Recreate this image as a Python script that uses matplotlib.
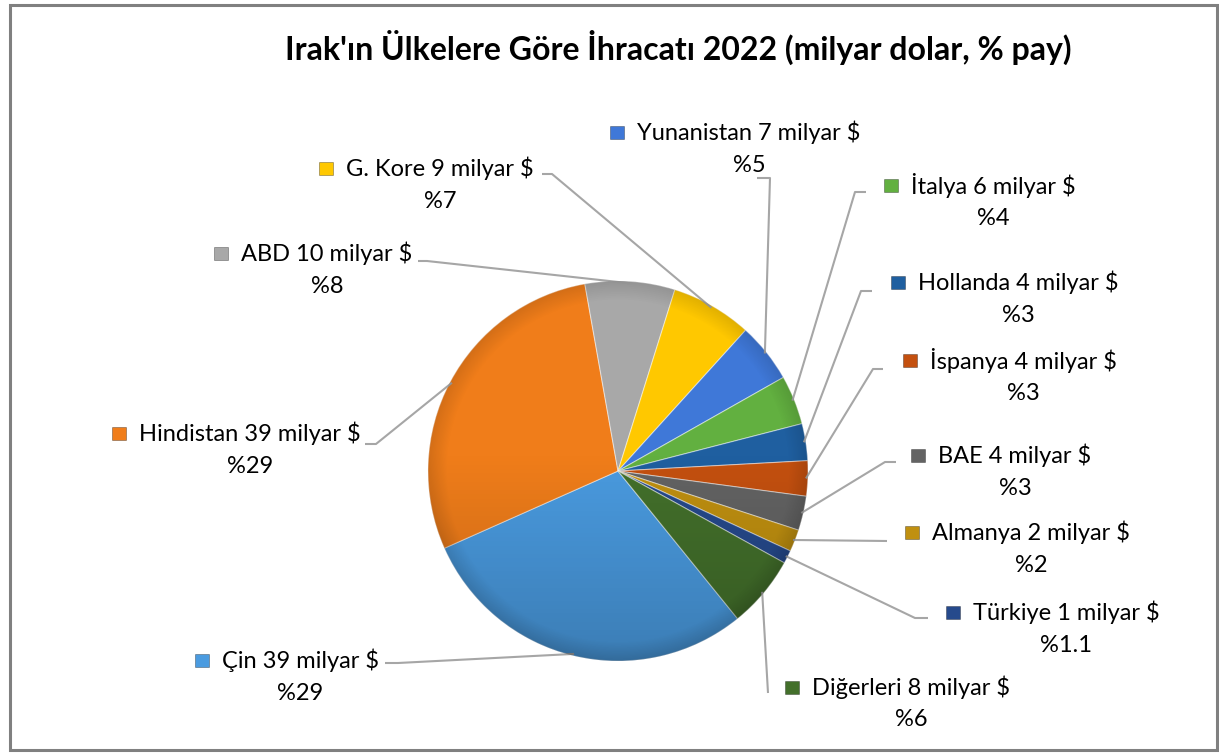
import numpy as np
import matplotlib
matplotlib.use("Agg")
import matplotlib.pyplot as plt
from matplotlib.patches import Rectangle, Circle
import matplotlib.colors as mcolors

plt.rcParams['font.family'] = ['Lato', 'DejaVu Sans']

# veriler (saat yönünde, Çin'den başlayarak)
ulkeler = ['Çin', 'Hindistan', 'ABD', 'G. Kore', 'Yunanistan', 'İtalya',
           'Hollanda', 'İspanya', 'BAE', 'Almanya', 'Türkiye', 'Diğerleri']
degerler = [39.0, 38.6, 10.2, 9.2, 6.8, 5.6, 4.2, 4.0, 3.9, 2.5, 1.5, 8.2]
milyar_etiket = ['39', '39', '10', '9', '7', '6', '4', '4', '4', '2', '1', '8']
yuzde_etiket = ['%29', '%29', '%8', '%7', '%5', '%4', '%3', '%3', '%3', '%2', '%1.1', '%6']
renkler = ['#4A9BE0', '#F07D1A', '#A8A8A8', '#FFC800', '#3F78D8', '#62B040',
           '#1F5FA0', '#C4500F', '#636363', '#C09010', '#264A8C', '#43702B']

# etiket yerleşimi (piksel, sol üstten): metin merkezi x, ilk satır y
etiket_x = [300, 250, 327, 440, 749, 993, 1018, 1023, 1015, 1031, 1066, 911]
etiket_y = [660, 433, 253, 168, 132, 185, 282, 360, 455, 532, 612, 687]
# çizgi başlangıcı ve dirsek noktası
cizgi_bas = [(385, 663), (365, 444), (418, 261), (542, 174), (757, 178), (866, 192),
             (872, 291), (883, 369), (896, 462), (887, 541), (928, 618), (768, 693)]
cizgi_dirsek = [(398, 663), (376, 444), (427, 261), (552, 174), (770, 178), (855, 192),
                (861, 291), (873, 369), (885, 462), (887, 541), (915, 618), (768, 693)]

W, H = 1219, 753
fig = plt.figure(figsize=(W / 100, H / 100), dpi=100)
ax = fig.add_axes([0, 0, 1, 1])

merkez = (618, 471)
r = 190
wedges, _ = ax.pie(degerler, colors=renkler, startangle=51, counterclock=True,
                   center=merkez, radius=r,
                   wedgeprops=dict(edgecolor=(1, 1, 1, 0.45), linewidth=0.8))

ax.set_xlim(0, W)
ax.set_ylim(H, 0)
ax.set_aspect('equal')
ax.axis('off')

# hafif 3B gölgelendirme
n = 400
yy = np.linspace(0, 1, n)[:, None] * np.ones((1, n))
xx = np.ones((n, 1)) * np.linspace(-1, 1, n)[None, :]
rr = np.sqrt(xx ** 2 + ((yy - 0.5) * 2) ** 2)
img = np.zeros((n, n, 4))
alpha = np.clip((yy - 0.45) * 0.35, 0, None)
img[..., 3] = alpha + np.clip(rr - 0.9, 0, None) * 1.2
im = ax.imshow(img, extent=(merkez[0] - r, merkez[0] + r, merkez[1] + r, merkez[1] - r),
               zorder=3, interpolation='bilinear')
im.set_clip_path(Circle(merkez, r, transform=ax.transData))
ax.set_xlim(0, W)
ax.set_ylim(H, 0)

fig.text(0.556, 1 - 47 / H, "Irak'ın Ülkelere Göre İhracatı 2022 (milyar dolar, % pay)",
         ha='center', va='center', fontsize=23, fontweight='bold', color='#000000')

metinler = []
for i in range(len(ulkeler)):
    t = ax.text(etiket_x[i], etiket_y[i], f'{ulkeler[i]} {milyar_etiket[i]} milyar $',
                ha='center', va='center', fontsize=17, color='#000000', zorder=5)
    ax.text(etiket_x[i], etiket_y[i] + 33, yuzde_etiket[i],
            ha='center', va='center', fontsize=17, color='#000000', zorder=5)
    metinler.append(t)

fig.canvas.draw()
ters = ax.transData.inverted()
for i, t in enumerate(metinler):
    bb = t.get_window_extent()
    x0, _ = ters.transform((bb.x0, bb.y0))
    ax.add_patch(Rectangle((x0 - 27, etiket_y[i] - 6.5), 14, 13, facecolor=renkler[i],
                           edgecolor=mcolors.to_rgba('black', 0.35), linewidth=0.6, zorder=5))

    w = wedges[i]
    orta = np.deg2rad((w.theta1 + w.theta2) / 2)
    uc = (merkez[0] + r * 0.99 * np.cos(orta), merkez[1] + r * 0.99 * np.sin(orta))
    xs = [cizgi_bas[i][0], cizgi_dirsek[i][0], uc[0]]
    ys = [cizgi_bas[i][1], cizgi_dirsek[i][1], uc[1]]
    ax.plot(xs, ys, color='#A6A6A6', linewidth=1.5, zorder=2, solid_capstyle='butt')

# çerçeve
ax.add_patch(Rectangle((9.5, 4.5), 1207, 745, facecolor='none', edgecolor='#808080',
                       linewidth=2.2, zorder=6))

fig.savefig('out.png', dpi=100)
